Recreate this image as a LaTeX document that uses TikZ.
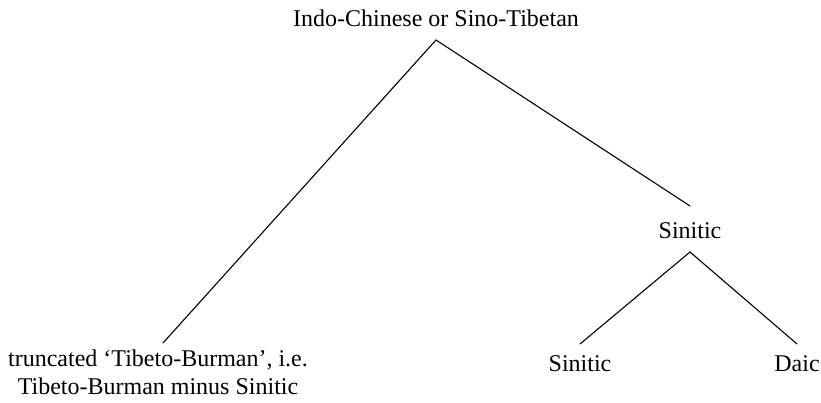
\documentclass[tikz,border=0pt]{standalone}
\usepackage{fontspec}
\setmainfont{Liberation Serif}
\begin{document}
\begin{tikzpicture}[x=1pt,y=1pt,
  lbl/.style={inner sep=0pt, outer sep=0pt, font=\fontsize{24}{28}\selectfont, text height=17pt, text depth=0pt, align=center},
  edge/.style={line width=1.1pt, line cap=round}]
\useasboundingbox (0,0) rectangle (821,403);
\node[lbl, anchor=base] (root) at (436,376) {Indo-Chinese or Sino-Tibetan};
\node[lbl, anchor=base] (sin) at (690,164) {Sinitic};
\node[lbl, anchor=base] (sin2) at (580,31) {Sinitic};
\node[lbl, anchor=base] (daic) at (797,31) {Daic};
\node[lbl, anchor=base] (tb) at (158,8) {truncated `Tibeto-Burman', i.e.\\Tibeto-Burman minus Sinitic};
\draw[edge] ([yshift=-13pt]root.south) -- ([xshift=5pt,yshift=35pt]tb.north);
\draw[edge] ([yshift=-13pt]root.south) -- ([yshift=16pt]sin.north);
\draw[edge] ([yshift=-13pt]sin.south) -- ([yshift=11pt]sin2.north);
\draw[edge] ([yshift=-13pt]sin.south) -- ([yshift=11pt]daic.north);
\end{tikzpicture}
\end{document}
